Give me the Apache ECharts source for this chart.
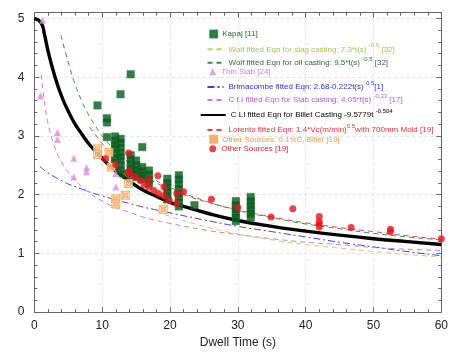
<!DOCTYPE html>
<html><head><meta charset="utf-8">
<script src="https://cdn.jsdelivr.net/npm/echarts@6/dist/echarts.min.js"></script>
<style>html,body{margin:0;padding:0;background:#fff}#c{width:451px;height:354px}</style>
</head><body><div id="c"></div>
<script>
// ---- data ----
const xTicks = [0, 10, 20, 30, 40, 50, 60];
const yTicks = [0, 1, 2, 3, 4, 5];

const kapaj = [
  [9.3,3.52],
  [10.7,3.30],[10.7,3.23],[10.7,2.98],
  [11.9,2.99],[11.9,2.92],[11.9,2.85],[11.9,2.78],[11.9,2.70],[11.9,2.62],[11.9,2.55],[11.9,2.48],
  [12.7,3.71],[12.7,2.95],[12.7,2.88],[12.7,2.80],[12.7,2.72],[12.7,2.65],[12.7,2.58],[12.7,2.50],[12.7,2.43],
  [13.1,2.36],
  [14.2,4.05],[14.2,2.67],[14.2,2.60],[14.2,2.52],[14.2,2.45],[14.2,2.38],[14.2,2.33],
  [15.0,2.58],[15.0,2.50],[15.0,2.43],[15.0,2.36],[15.0,2.30],
  [15.9,2.81],[15.9,2.47],[15.9,2.40],[15.9,2.33],[15.9,2.27],
  [16.9,2.41],[16.9,2.34],[16.9,2.26],[16.9,2.19],
  [19.6,2.27],[19.6,2.20],[19.6,2.13],[19.6,2.06],[19.6,1.99],[19.6,1.92],
  [21.3,2.33],[21.3,2.26],[21.3,2.18],[21.3,2.10],[21.3,2.02],[21.3,1.95],[21.3,1.87],[21.3,1.80],
  [23.6,1.82],
  [29.7,1.89],[29.7,1.82],[29.7,1.75],[29.7,1.68],[29.7,1.61],[29.7,1.55],
  [31.9,1.96],[31.9,1.89],[31.9,1.82],[31.9,1.75],[31.9,1.68],[31.9,1.61]
];
const wolfSlag = [[18,1.72],[20,1.63],[25,1.46],[30,1.33],[35,1.23],[40,1.15],[45,1.09],[50,1.03],[55,0.98],[60,0.94]];
const wolfOil = [[3.9,4.72],[5,4.25],[6,3.88],[7,3.59],[8,3.36],[9,3.17],[10,3.0],[12,2.74],[14,2.54],[16,2.38],[18,2.24],[20,2.12],[25,1.9],[30,1.73],[35,1.61],[40,1.5],[45,1.42],[50,1.34],[55,1.28],[60,1.23]];
const thinSlab = [[1.2,4.97],[0.9,3.68],[3.4,3.06],[3.4,2.94],[5.8,2.62],[5.8,2.30],[7.7,2.46],[7.7,2.39],[12.0,2.36],[12.0,2.13]];
const brimacombe = [[0.8,2.48],[1,2.46],[2,2.37],[3,2.30],[4,2.24],[5,2.18],[6,2.14],[8,2.05],[10,1.98],[12,1.91],[14,1.85],[16,1.79],[18,1.74],[20,1.69],[25,1.57],[30,1.46],[35,1.37],[40,1.28],[45,1.19],[50,1.11],[55,1.03],[60,0.96]];
const cliSlab = [[1,4.05],[1.5,3.56],[2,3.22],[3,2.81],[4,2.56],[5,2.38],[6,2.24],[8,2.04],[10,1.89],[12,1.78],[14,1.70],[16,1.62],[18,1.56],[20,1.51],[25,1.40],[30,1.32],[35,1.25],[40,1.19],[45,1.15],[50,1.10],[55,1.07],[60,1.05]];
const cliBillet = [[0,5.0],[1,4.92],[1.5,4.72],[2,4.45],[3,4.02],[4,3.68],[5,3.42],[6,3.2],[7,3.03],[8,2.87],[9,2.74],[10,2.62],[11,2.5],[12,2.4],[14,2.23],[16,2.08],[18,1.97],[20,1.87],[22,1.8],[25,1.7],[30,1.56],[35,1.46],[40,1.38],[45,1.31],[50,1.25],[55,1.2],[60,1.15]];
const lorento = [[8.15,3.15],[9,3.02],[10,2.87],[12,2.64],[14,2.46],[16,2.32],[18,2.2],[20,2.09],[22,2.0],[25,1.89],[30,1.74],[35,1.62],[40,1.52],[45,1.44],[50,1.37],[55,1.3],[60,1.24]];
const other01C = [[9.3,2.78],[9.3,2.68],[11.0,2.72],[11.3,2.47],[12.0,1.93],[12.0,1.84],[13.4,1.99],[13.9,2.19],[19.0,1.75]];
const otherSrc = [[10.5,2.61],[12.0,2.51],[13.9,2.71],[13.9,2.40],[14.0,2.35],[14.9,2.30],[15.6,2.24],[16.2,2.17],[16.85,2.26],[16.85,2.13],[17.6,2.07],[18.2,2.32],[18.3,2.02],[19.1,2.13],[19.1,1.98],[19.9,1.90],[21.0,2.02],[21.0,1.85],[22.0,2.05],[26.1,1.92],[30.0,1.78],[34.9,1.62],[38.1,1.76],[42.0,1.63],[42.0,1.54],[42.0,1.50],[42.0,1.45],[46.7,1.44],[52.5,1.41],[52.5,1.37],[60.0,1.25]];

const names = ['Kapaj','WolfSlag','WolfOil','ThinSlab','Brim','CLISlab','CLIBillet','Lorento','Other01C','Other'];
const labels = [
  'Kapaj [11]',
  'Wolf fitted Eqn for slag casting: 7.3*t(s) {s|-0.5} [32]',
  'Wolf fitted Eqn for oil casting: 9.5*t(s) {s|-0.5} [32]',
  'Thin Slab [24]',
  'Brimacombe fitted Eqn: 2.68-0.222t(s) {s|0.5}[1]',
  'C LI fitted Eqn for Slab casting: 4.05*t(s) {s|-0.33} [17]',
  'C LI fitted Eqn for Billet Casting -9.5779t {s|-0.504}',
  'Lorento fitted Eqn: 1.4*Vc(m/min){s|0.5}with 700mm Mold [19]',
  'Other Sources: 0.1%C, Billet [19]',
  'Other Sources [19]'
];
const colors = ['#095a1d','#b9d46c','#3e8a4c','#dc8ade','#3d3de0','#c479e6','#000000','#e8413c','#f5a04e','#e8141c'];
const textColors = ['#1e6b34','#a6c456','#2f6c3b','#d585d9','#2f2fd6','#b35ee0','#000000','#e0323a','#f59a48','#e0202a'];
const legendY = [34, 49.3, 62.7, 71.7, 87, 100, 115, 130, 139.3, 148.7];

const crossSquare = 'path://M0,0L10,0L10,10L0,10Z M0,0L10,10 M10,0L0,10 M2.5,2.5L7.5,2.5L7.5,7.5L2.5,7.5Z';

const chart = echarts.init(document.getElementById('c'), null, {renderer: 'canvas'});
const FONT = 'Liberation Sans, Arial, sans-serif';

const legends = names.map((n, i) => {
  const isMarker = [0,3,8,9].includes(i);
  const isBillet = i === 6;
  let itemWidth = 16, gap = 4, left = 206.5, itemHeight = 8;
  let itemStyle = {color: 'rgba(0,0,0,0)', borderColor: 'rgba(0,0,0,0)', borderWidth: 0};
  if (isMarker) { itemWidth = 7; itemHeight = 7; left = 209.2; gap = 10.5; itemStyle = undefined; }
  if (isBillet) { itemWidth = 25; gap = 2; left = 199.7; itemHeight = 8; }
  const l = {
    data: [n], left: left, top: legendY[i] - 6.5, padding: 0,
    itemWidth, itemHeight, itemGap: 0, itemTextGap: gap, selectedMode: false,
    formatter: labels[i],
    textStyle: {fontSize: 8, fontFamily: FONT, color: textColors[i], lineHeight: 13,
      rich: {s: {fontSize: 6, fontFamily: FONT, color: textColors[i], padding: [0,0,7,0]}}}
  };
  if (itemStyle) l.itemStyle = itemStyle;
  return l;
});

const lineSeries = (name, data, color, type, width, z) => ({
  name, type: 'line', data, showSymbol: false, symbol: 'none', smooth: true, z: z || 2,
  lineStyle: {color, width, type}, itemStyle: {color}, silent: true, animation: false
});

const axisCommon = {
  axisLine: {show: true, onZero: false, lineStyle: {color: '#666', width: 1}},
  axisTick: {show: true, inside: true, length: 5, lineStyle: {color: '#666'}},
  minorTick: {show: true, splitNumber: 5, length: 3, lineStyle: {color: '#666'}}
};

chart.setOption({
  animation: false,
  grid: {left: 34.4, right: 6, top: 12.6, bottom: 40, containLabel: false},
  legend: legends,
  xAxis: [Object.assign({
    type: 'value', min: xTicks[0], max: xTicks[xTicks.length-1], interval: 10,
    name: 'Dwell Time (s)', nameLocation: 'middle', nameGap: 23,
    nameTextStyle: {fontSize: 12, color: '#222', fontFamily: FONT},
    axisLabel: {fontSize: 12, color: '#222', margin: 8, fontFamily: FONT},
    splitLine: {show: true, lineStyle: {color: '#e2e2e2', type: [3,3]}}
  }, axisCommon), Object.assign({
    type: 'value', position: 'top', min: 0, max: 60, interval: 10,
    axisLabel: {show: false}, splitLine: {show: false}
  }, axisCommon)],
  yAxis: [Object.assign({
    type: 'value', min: yTicks[0], max: 5.1, interval: 1,
    axisLabel: {fontSize: 12, color: '#222', margin: 10, fontFamily: FONT, showMaxLabel: false,
      formatter: v => (Number.isInteger(v) && yTicks.includes(v)) ? String(v) : ''},
    splitLine: {show: true, lineStyle: {color: '#e2e2e2', type: [3,3]}}
  }, axisCommon), Object.assign({
    type: 'value', position: 'right', min: 0, max: 5.1, interval: 1,
    axisLabel: {show: false}, splitLine: {show: false}
  }, axisCommon)],
  series: [
    lineSeries('WolfSlag', wolfSlag, colors[1], [5,4], 1),
    lineSeries('WolfOil', wolfOil, colors[2], [5,4], 1),
    lineSeries('Brim', brimacombe, colors[4], [7,3,2,3], 1),
    lineSeries('CLISlab', cliSlab, colors[5], [5,4], 1),
    lineSeries('Lorento', lorento, colors[7], [5,4], 1),
    lineSeries('CLIBillet', cliBillet, colors[6], 'solid', 3.4, 3),
    {name: 'Kapaj', type: 'scatter', data: kapaj, symbol: 'rect', symbolSize: 7.5, z: 4,
      itemStyle: {color: colors[0], borderColor: '#1c7333', borderWidth: 0.5}},
    {name: 'ThinSlab', type: 'scatter', data: thinSlab, symbol: 'triangle', symbolSize: 7, z: 4,
      itemStyle: {color: colors[3]}},
    {name: 'Other01C', type: 'scatter', data: other01C, symbol: crossSquare, symbolSize: 8, z: 5,
      itemStyle: {color: '#fde3c6', borderColor: colors[8], borderWidth: 1}},
    {name: 'Other', type: 'scatter', data: otherSrc, symbol: 'circle', symbolSize: 7, z: 6,
      itemStyle: {color: colors[9]}}
  ]
});
</script></body></html>
